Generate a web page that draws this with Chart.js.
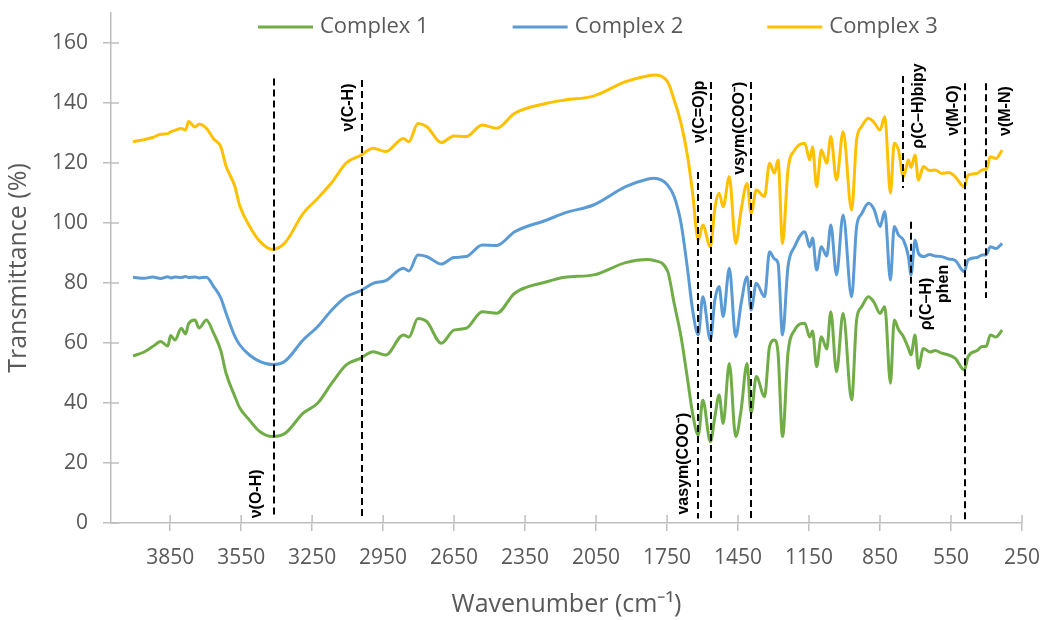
<!DOCTYPE html>
<html lang="en">
<head>
<meta charset="UTF-8">
<title>FTIR spectra of complexes 1-3</title>
<script src="https://cdn.jsdelivr.net/npm/chart.js@4.4.1/dist/chart.umd.min.js"></script>
<style>
  body { margin: 0; background: #ffffff; }
  .wrap { width: 1046px; height: 620px; position: relative; }
</style>
</head>
<body>
<div class="wrap"><canvas id="ftir"></canvas></div>
<script>
// wavenumber (cm-1) for every reading, high to low
const wavenumbers = [4007, 3960, 3924, 3890, 3860, 3848, 3830, 3803, 3785, 3772, 3745, 3728, 3697, 3666, 3636, 3614, 3576, 3557, 3515, 3470,
  3417, 3364, 3288, 3227, 3167, 3106, 3046, 2992, 2939, 2864, 2841, 2803, 2765, 2704, 2651, 2599, 2531, 2470, 2394, 2258,
  2182, 2061, 1925, 1834, 1805, 1748, 1720, 1691, 1663, 1642, 1618, 1599, 1567, 1548, 1530, 1513, 1487, 1460, 1437, 1412,
  1395, 1373, 1338, 1317, 1296, 1281, 1262, 1239, 1211, 1168, 1147, 1135, 1118, 1098, 1075, 1058, 1034, 1006, 970, 949,
  928, 899, 875, 850, 830, 806, 790, 772, 751, 730, 719, 702, 688, 667, 640, 617, 589, 560, 532, 494,
  478, 440, 419, 400, 384, 360, 334];

const complex1 = [55.7, 57.0, 58.8, 60.5, 59.0, 62.5, 61.0, 64.9, 63.0, 66.5, 67.7, 65.0, 67.7, 63.2, 57.5, 50.0, 42.1, 38.5, 34.3, 30.4,
  28.8, 29.9, 36.6, 39.9, 46.6, 52.7, 54.9, 57.1, 56.0, 62.7, 62.0, 68.2, 67.1, 59.9, 64.3, 64.9, 70.4, 69.9, 76.6, 80.4,
  81.9, 82.7, 86.8, 87.8, 87.5, 84.0, 73.2, 62.1, 47.7, 36.5, 29.3, 41.0, 27.1, 35.4, 42.7, 33.2, 53.2, 28.8, 37.7, 53.2,
  36.6, 48.8, 42.1, 58.8, 61.0, 56.6, 28.8, 56.6, 64.3, 66.6, 62.0, 64.0, 52.1, 62.1, 58.0, 70.4, 50.4, 69.9, 41.0, 67.7,
  72.0, 75.4, 73.5, 69.9, 72.1, 46.6, 67.7, 64.5, 62.1, 58.2, 56.0, 62.7, 51.6, 58.2, 57.0, 57.5, 56.6, 56.0, 54.9, 51.0,
  55.4, 57.5, 58.8, 59.0, 62.7, 62.0, 64.3];

const complex2 = [81.9, 81.6, 82.0, 81.5, 82.1, 81.7, 82.0, 81.8, 82.2, 81.8, 82.0, 81.7, 81.9, 78.8, 75.0, 70.0, 62.1, 59.5, 56.0, 53.8,
  52.8, 54.0, 61.0, 65.4, 71.0, 75.4, 77.4, 79.9, 80.8, 84.9, 84.0, 89.3, 88.8, 86.3, 88.5, 88.8, 92.7, 92.5, 97.1, 101.0,
  103.4, 106.0, 112.1, 114.6, 114.9, 112.7, 108.8, 99.9, 84.3, 71.0, 62.7, 75.4, 61.0, 74.3, 78.8, 68.8, 84.9, 62.1, 73.2, 82.1,
  71.0, 79.9, 75.4, 90.4, 88.0, 86.6, 62.7, 85.4, 92.1, 97.1, 92.0, 95.0, 84.3, 92.1, 89.0, 99.3, 82.7, 102.7, 75.4, 98.8,
  103.0, 106.6, 104.5, 98.8, 103.8, 81.0, 98.8, 96.0, 94.3, 88.8, 82.7, 94.3, 90.0, 88.8, 89.5, 89.0, 88.8, 88.0, 87.5, 83.8,
  87.7, 88.5, 89.3, 89.5, 92.1, 91.5, 93.2];

const complex3 = [127.1, 127.8, 128.5, 129.6, 129.8, 130.4, 130.9, 131.5, 131.0, 133.8, 132.0, 132.9, 131.6, 128.0, 125.4, 119.0, 112.1, 106.0, 99.0, 93.8,
  91.2, 93.5, 103.2, 108.2, 113.5, 120.0, 122.5, 124.9, 123.8, 128.2, 127.1, 133.2, 132.1, 126.8, 129.0, 128.8, 132.7, 131.6, 136.6, 139.9,
  141.0, 142.3, 147.1, 149.0, 149.3, 147.1, 141.0, 133.2, 122.1, 109.9, 94.3, 99.3, 92.0, 105.0, 109.9, 105.4, 115.4, 93.2, 104.3, 113.2,
  103.2, 111.0, 108.8, 119.9, 116.6, 121.0, 93.2, 117.7, 124.3, 126.6, 121.0, 125.4, 112.1, 124.3, 119.9, 128.8, 114.3, 130.4, 104.3, 127.7,
  132.1, 134.9, 133.5, 131.0, 135.4, 109.9, 126.6, 124.3, 115.4, 121.0, 118.5, 122.7, 114.3, 118.8, 117.5, 117.7, 116.5, 116.8, 115.4, 112.1,
  116.0, 116.5, 117.7, 118.0, 122.1, 121.5, 124.3];

const seriesNames = ['Complex 1', 'Complex 2', 'Complex 3'];
const seriesColors = ['#70AD47', '#5B9BD5', '#FFC000'];
const xTicks = [3850, 3550, 3250, 2950, 2650, 2350, 2050, 1750, 1450, 1150, 850, 550, 250];

// dashed band markers: wavenumber and vertical extent (in % units)
const bandLines = [
  { wn: 3413, top: 148.2, bottom: 2 },
  { wn: 3040, top: 147.7, bottom: 1.7 },
  { wn: 1619, top: 117, bottom: 1.5 },
  { wn: 1564, top: 147, bottom: 1.5 },
  { wn: 1395, top: 147, bottom: 1.5 },
  { wn: 751, top: 149, bottom: 111.7 },
  { wn: 719, top: 100.4, bottom: 67.7 },
  { wn: 493, top: 146.6, bottom: 1 },
  { wn: 402, top: 146.6, bottom: 75 }
];
const bandLabels = [
  { text: 'ν(O-H)', wn: 3485, y: 9.7 },
  { text: 'ν(C-H)', wn: 3094, y: 138.5 },
  { text: 'vasym(COO⁻)', wn: 1679, y: 19.8 },
  { text: 'ν(C=O)p', wn: 1611, y: 137.1 },
  { text: 'vsym(COO⁻)', wn: 1444, y: 131.6 },
  { text: 'ρ(C–H)bipy', wn: 688, y: 139 },
  { text: 'ρ(C–H)', wn: 652, y: 73 },
  { text: 'phen', wn: 582, y: 79.7 },
  { text: 'ν(M-O)', wn: 539, y: 137.5 },
  { text: 'ν(M-N)', wn: 320, y: 137.3 }
];

const axisGrey = '#BFBFBF';
const textGrey = '#595959';

function toPoints(values) {
  return wavenumbers.map((wn, i) => ({ x: wn, y: values[i] }));
}

// tick marks crossing into the plot area, like the outside ones
const innerTicks = {
  id: 'innerTicks',
  beforeDatasetsDraw(chart) {
    const { ctx, chartArea, scales: { x, y } } = chart;
    ctx.save();
    ctx.strokeStyle = axisGrey;
    ctx.lineWidth = 1.5;
    ctx.beginPath();
    x.ticks.forEach(t => {
      const px = x.getPixelForValue(t.value);
      ctx.moveTo(px, chartArea.bottom);
      ctx.lineTo(px, chartArea.bottom - 8);
    });
    y.ticks.forEach(t => {
      const py = y.getPixelForValue(t.value);
      ctx.moveTo(chartArea.left, py);
      ctx.lineTo(chartArea.left + 8, py);
    });
    ctx.stroke();
    ctx.restore();
  }
};

const bandPlugin = {
  id: 'bands',
  afterDatasetsDraw(chart) {
    const { ctx, scales: { x, y } } = chart;
    ctx.save();
    ctx.strokeStyle = '#000000';
    ctx.lineWidth = 2;
    ctx.setLineDash([7, 4]);
    bandLines.forEach(b => {
      const px = Math.round(x.getPixelForValue(b.wn));
      ctx.beginPath();
      ctx.moveTo(px, y.getPixelForValue(b.top));
      ctx.lineTo(px, y.getPixelForValue(b.bottom));
      ctx.stroke();
    });
    ctx.setLineDash([]);
    ctx.fillStyle = '#000000';
    ctx.font = 'bold 16px "Liberation Sans", Arial, sans-serif';
    ctx.textAlign = 'center';
    ctx.textBaseline = 'middle';
    bandLabels.forEach(l => {
      ctx.save();
      ctx.translate(x.getPixelForValue(l.wn), y.getPixelForValue(l.y));
      ctx.rotate(-Math.PI / 2);
      ctx.fillText(l.text, 0, 0);
      ctx.restore();
    });
    ctx.restore();
  }
};

// legend sits inside the plot, top centre
const topLegend = {
  id: 'topLegend',
  afterDraw(chart) {
    const ctx = chart.ctx;
    ctx.save();
    ctx.font = '22px "Open Sans", sans-serif';
    ctx.textBaseline = 'middle';
    let xPos = 258;
    const yPos = 27;
    chart.data.datasets.forEach(ds => {
      ctx.strokeStyle = ds.borderColor;
      ctx.lineWidth = 3;
      ctx.beginPath();
      ctx.moveTo(xPos, yPos);
      ctx.lineTo(xPos + 55, yPos);
      ctx.stroke();
      ctx.fillStyle = textGrey;
      ctx.fillText(ds.label, xPos + 62, yPos);
      xPos += 62 + ctx.measureText(ds.label).width + 84;
    });
    ctx.restore();
  }
};

new Chart(document.getElementById('ftir'), {
  type: 'line',
  data: {
    datasets: [complex1, complex2, complex3].map((vals, i) => ({
      label: seriesNames[i],
      data: toPoints(vals),
      borderColor: seriesColors[i],
      backgroundColor: seriesColors[i],
      borderWidth: 3,
      pointRadius: 0,
      cubicInterpolationMode: 'monotone',
      fill: false
    }))
  },
  options: {
    responsive: true,
    maintainAspectRatio: false,
    animation: false,
    layout: { padding: { left: 0, right: 24, top: 13, bottom: 0 } },
    plugins: {
      legend: { display: false },
      tooltip: { enabled: false }
    },
    scales: {
      x: {
        type: 'linear',
        reverse: true,
        min: 250,
        max: 4100,
        afterBuildTicks: scale => { scale.ticks = xTicks.map(v => ({ value: v })); },
        afterFit: scale => {
          scale.height = 97;
          scale.paddingLeft = 0;
          scale.paddingRight = 0;
        },
        grid: { drawOnChartArea: false, color: axisGrey, lineWidth: 1.5, tickLength: 8 },
        border: { color: axisGrey, width: 1.5 },
        ticks: {
          autoSkip: false,
          maxRotation: 0,
          padding: 14,
          color: textGrey,
          font: { family: 'Open Sans', size: 21 },
          callback: v => String(v)
        },
        title: {
          display: true,
          text: 'Wavenumber (cm⁻¹)',
          color: textGrey,
          font: { family: 'Open Sans', size: 25 },
          padding: { top: 0, bottom: 0 }
        }
      },
      y: {
        min: 0,
        max: 170,
        afterFit: scale => {
          scale.width = 111;
          scale.paddingTop = 0;
          scale.paddingBottom = 0;
        },
        grid: { drawOnChartArea: false, color: axisGrey, lineWidth: 1.5, tickLength: 8 },
        border: { color: axisGrey, width: 1.5 },
        ticks: {
          stepSize: 20,
          includeBounds: false,
          padding: 15,
          color: textGrey,
          font: { family: 'Open Sans', size: 21 },
          callback: v => String(v)
        },
        title: {
          display: true,
          text: 'Transmittance (%)',
          color: textGrey,
          font: { family: 'Open Sans', size: 25 },
          padding: { top: 4, bottom: 0 }
        }
      }
    }
  },
  plugins: [innerTicks, bandPlugin, topLegend]
});
</script>
</body>
</html>
